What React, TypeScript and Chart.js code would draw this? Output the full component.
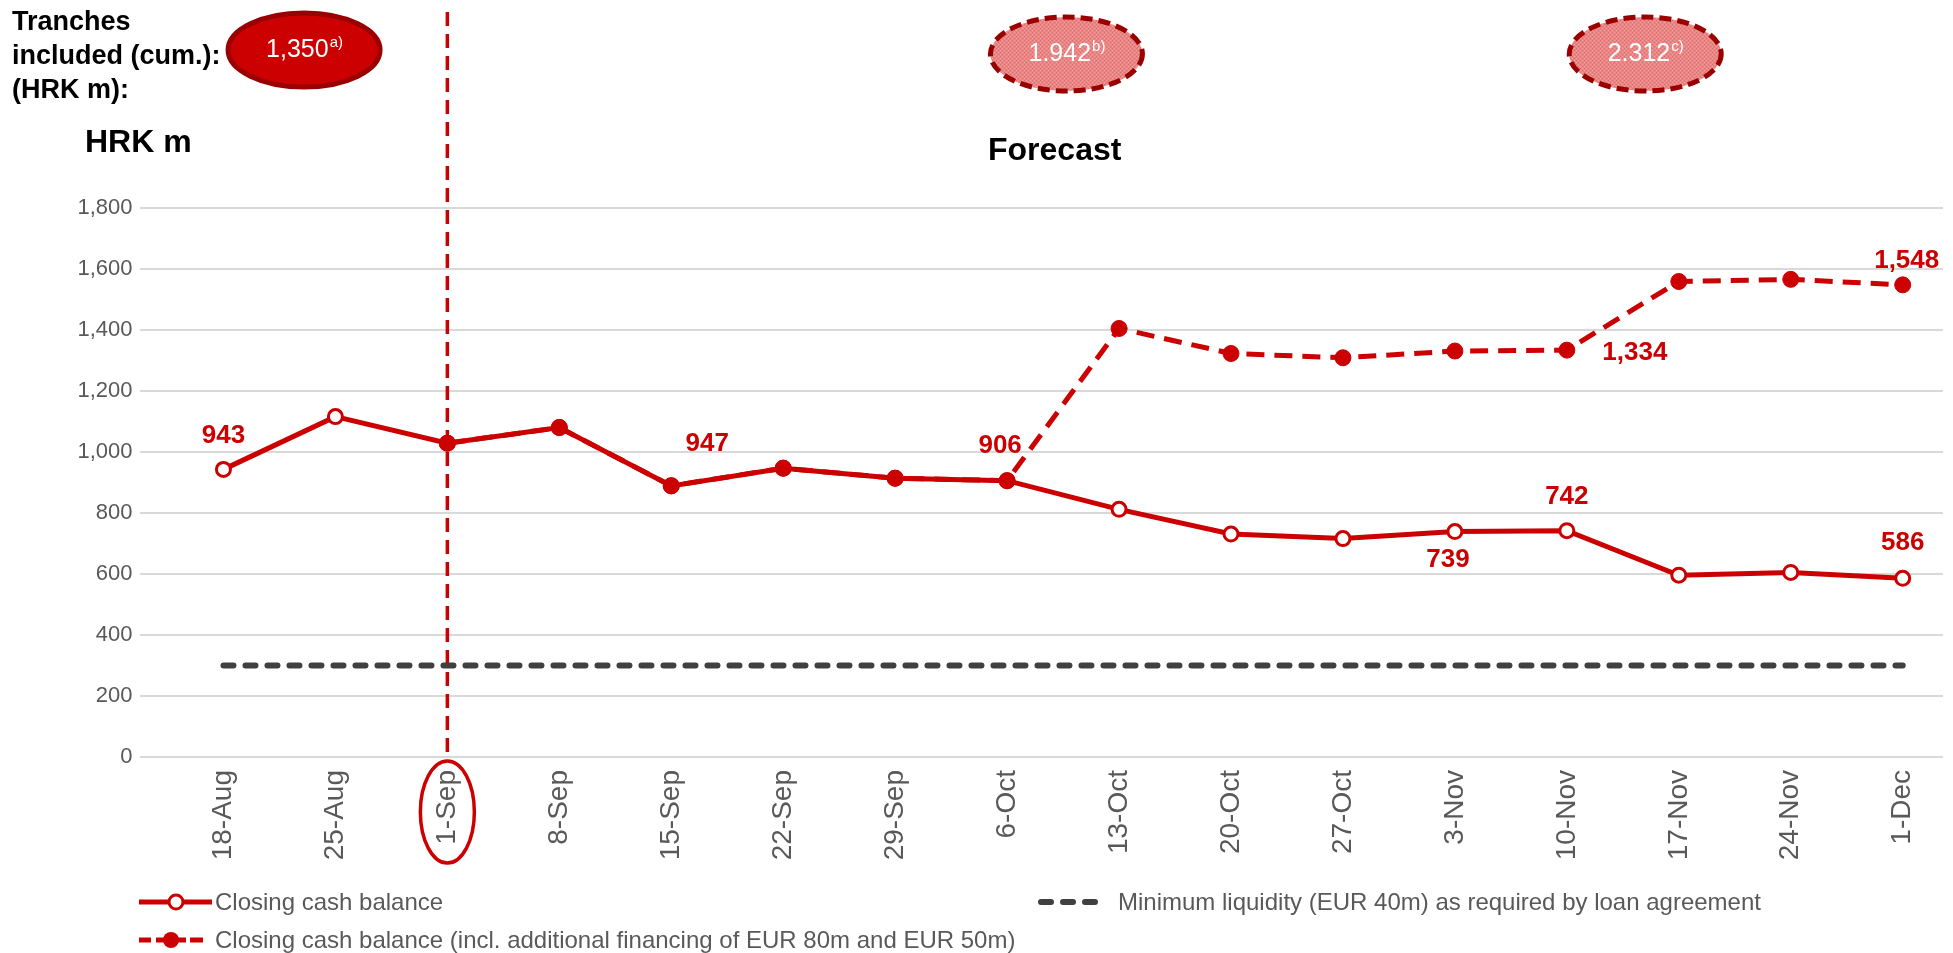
import React, { useEffect, useRef } from "react";
import { Chart, registerables } from "chart.js";

Chart.register(...registerables);

// ---------------- data ----------------
const categories = [
  "18-Aug", "25-Aug", "1-Sep", "8-Sep", "15-Sep", "22-Sep", "29-Sep", "6-Oct",
  "13-Oct", "20-Oct", "27-Oct", "3-Nov", "10-Nov", "17-Nov", "24-Nov", "1-Dec",
];
const closingCash = [943, 1116, 1029, 1080, 889, 947, 914, 906, 812, 731, 716, 739, 742, 596, 605, 586];
const closingCashFinanced = [null, null, 1029, 1080, 889, 947, 914, 906, 1405, 1323, 1309, 1331, 1334, 1559, 1566, 1548];
const minimumLiquidity = [300, 300, 300, 300, 300, 300, 300, 300, 300, 300, 300, 300, 300, 300, 300, 300];
const yMin = 0;
const yMax = 1800;
const yStep = 200;
const splitIndex = 2; // 1-Sep marker line

const seriesNames = [
  "Closing cash balance",
  "Closing cash balance (incl. additional financing of EUR 80m and EUR 50m)",
  "Minimum liquidity (EUR 40m) as required by loan agreement",
];

// value labels: index into series, with offsets from the point
const closingLabels = [
  { i: 0, dx: 0, dy: -34 },
  { i: 5, dx: -76, dy: -24 },
  { i: 7, dx: -7, dy: -35 },
  { i: 11, dx: -7, dy: 28 },
  { i: 12, dx: 0, dy: -34 },
  { i: 15, dx: 0, dy: -35 },
];
const financedLabels = [
  { i: 12, dx: 68, dy: 3 },
  { i: 15, dx: 4, dy: -24 },
];

// tranche bubbles
const trancheTexts = ["1,350", "1.942", "2.312"];
const trancheNotes = ["a)", "b)", "c)"];
const tranchePos = [0.72, 7.53, 12.7];

// ---------------- styles ----------------
const RED = "#cc0000";
const DARK_RED = "#9a0000";
const GRAY_TEXT = "#595959";
const LIQ_GRAY = "#404040";
const FONT = "Arial, 'Liberation Sans', Helvetica, sans-serif";

function fmt(v: number) {
  return v.toLocaleString("en-US");
}

function makePattern(ctx: CanvasRenderingContext2D) {
  const c = document.createElement("canvas");
  c.width = 4;
  c.height = 4;
  const p = c.getContext("2d")!;
  p.fillStyle = "#ea8585";
  p.fillRect(0, 0, 4, 4);
  p.fillStyle = "#de6a6a";
  p.fillRect(0, 0, 1, 1);
  p.fillRect(2, 2, 1, 1);
  p.fillStyle = "#f2a0a0";
  p.fillRect(2, 0, 1, 1);
  p.fillRect(0, 2, 1, 1);
  return ctx.createPattern(c, "repeat")!;
}

function drawBubble(
  ctx: CanvasRenderingContext2D,
  cx: number,
  cy: number,
  text: string,
  note: string,
  dashed: boolean
) {
  ctx.save();
  ctx.beginPath();
  ctx.ellipse(cx, cy, 76, 37, 0, 0, Math.PI * 2);
  ctx.fillStyle = dashed ? makePattern(ctx) : RED;
  ctx.fill();
  ctx.lineWidth = 5;
  ctx.strokeStyle = DARK_RED;
  if (dashed) ctx.setLineDash([12, 6]);
  ctx.stroke();
  ctx.setLineDash([]);
  ctx.fillStyle = "#ffffff";
  ctx.textBaseline = "middle";
  ctx.textAlign = "left";
  ctx.font = `25px ${FONT}`;
  const w1 = ctx.measureText(text).width;
  ctx.font = `15px ${FONT}`;
  const w2 = ctx.measureText(note).width;
  const x0 = cx - (w1 + w2) / 2;
  ctx.font = `25px ${FONT}`;
  ctx.fillText(text, x0, cy);
  ctx.font = `15px ${FONT}`;
  ctx.fillText(note, x0 + w1 + 1, cy - 7);
  ctx.restore();
}

const overlayPlugin = {
  id: "overlay",
  beforeDatasetsDraw(chart: any) {
    const ctx: CanvasRenderingContext2D = chart.ctx;
    const x = chart.scales.x.getPixelForValue(splitIndex);
    ctx.save();
    ctx.strokeStyle = RED;
    ctx.lineWidth = 3.5;
    ctx.setLineDash([14, 8]);
    ctx.beginPath();
    ctx.moveTo(x, 12);
    ctx.lineTo(x, chart.chartArea.bottom);
    ctx.stroke();
    ctx.restore();
  },
  afterDraw(chart: any) {
    const ctx: CanvasRenderingContext2D = chart.ctx;
    const xs = chart.scales.x;
    const ys = chart.scales.y;

    // ellipse around the 1-Sep label
    ctx.save();
    ctx.strokeStyle = RED;
    ctx.lineWidth = 3.5;
    ctx.beginPath();
    ctx.ellipse(xs.getPixelForValue(splitIndex), 812, 27, 51, 0, 0, Math.PI * 2);
    ctx.stroke();
    ctx.restore();

    // top-left caption
    ctx.save();
    ctx.fillStyle = "#000";
    ctx.textBaseline = "middle";
    ctx.textAlign = "left";
    ctx.font = `bold 27px ${FONT}`;
    ctx.fillText("Tranches", 12, 23);
    ctx.fillText("included (cum.):", 12, 57);
    ctx.fillText("(HRK m):", 12, 91);
    ctx.font = `bold 32px ${FONT}`;
    ctx.fillText("HRK m", 85, 143);
    ctx.fillText("Forecast", 988, 151);
    ctx.restore();

    // tranche bubbles
    trancheTexts.forEach((t, k) => {
      drawBubble(ctx, xs.getPixelForValue(tranchePos[k]), k === 0 ? 50 : 54, t, trancheNotes[k], k > 0);
    });

    // value labels
    ctx.save();
    ctx.fillStyle = RED;
    ctx.font = `bold 26px ${FONT}`;
    ctx.textAlign = "center";
    ctx.textBaseline = "middle";
    closingLabels.forEach((l) => {
      const v = closingCash[l.i];
      ctx.fillText(fmt(v), xs.getPixelForValue(l.i) + l.dx, ys.getPixelForValue(v) + l.dy);
    });
    financedLabels.forEach((l) => {
      const v = closingCashFinanced[l.i] as number;
      ctx.fillText(fmt(v), xs.getPixelForValue(l.i) + l.dx, ys.getPixelForValue(v) + l.dy);
    });
    ctx.restore();

    // legend
    ctx.save();
    ctx.font = `24px ${FONT}`;
    ctx.fillStyle = GRAY_TEXT;
    ctx.textBaseline = "middle";
    ctx.textAlign = "left";
    let y = 902;
    ctx.strokeStyle = RED;
    ctx.lineWidth = 5;
    ctx.beginPath();
    ctx.moveTo(139, y);
    ctx.lineTo(212, y);
    ctx.stroke();
    ctx.beginPath();
    ctx.arc(176, y, 7, 0, Math.PI * 2);
    ctx.fillStyle = "#fff";
    ctx.fill();
    ctx.lineWidth = 3;
    ctx.stroke();
    ctx.fillStyle = GRAY_TEXT;
    ctx.fillText(seriesNames[0], 215, y + 1);
    ctx.strokeStyle = LIQ_GRAY;
    ctx.lineWidth = 6;
    ctx.lineCap = "round";
    ctx.setLineDash([10, 12]);
    ctx.beginPath();
    ctx.moveTo(1041, y);
    ctx.lineTo(1102, y);
    ctx.stroke();
    ctx.setLineDash([]);
    ctx.lineCap = "butt";
    ctx.fillText(seriesNames[2], 1118, y + 1);
    y = 940;
    ctx.strokeStyle = RED;
    ctx.lineWidth = 5;
    ctx.beginPath();
    ctx.moveTo(139, y);
    ctx.lineTo(151, y);
    ctx.moveTo(190, y);
    ctx.lineTo(203, y);
    ctx.stroke();
    ctx.beginPath();
    ctx.arc(171, y, 8, 0, Math.PI * 2);
    ctx.fillStyle = RED;
    ctx.fill();
    ctx.fillRect(156, y - 2.5, 30, 5);
    ctx.fillStyle = GRAY_TEXT;
    ctx.fillText(seriesNames[1], 215, y + 1);
    ctx.restore();
  },
};

export default function App() {
  const ref = useRef<HTMLCanvasElement>(null);

  useEffect(() => {
    const toXY = (arr: (number | null)[]) => arr.map((v, i) => ({ x: i, y: v }));
    const chart = new Chart(ref.current!, {
      type: "line",
      data: {
        datasets: [
          {
            label: seriesNames[1],
            data: toXY(closingCashFinanced) as any,
            borderColor: RED,
            borderWidth: 5,
            borderDash: [18, 10],
            pointRadius: 8,
            pointBackgroundColor: RED,
            pointBorderColor: RED,
            pointBorderWidth: 1,
            tension: 0,
            order: 0,
          },
          {
            label: seriesNames[0],
            data: toXY(closingCash) as any,
            borderColor: RED,
            borderWidth: 5,
            pointRadius: 7,
            pointBackgroundColor: "#ffffff",
            pointBorderColor: RED,
            pointBorderWidth: 3,
            tension: 0,
            order: 1,
          },
          {
            label: seriesNames[2],
            data: toXY(minimumLiquidity) as any,
            borderColor: LIQ_GRAY,
            borderWidth: 6,
            borderDash: [10, 12],
            borderCapStyle: "round",
            pointRadius: 0,
            tension: 0,
            order: 2,
          },
        ],
      },
      options: {
        animation: false,
        responsive: false,
        locale: "en-US",
        layout: { padding: { top: 208, left: 0, right: 0, bottom: 0 } },
        plugins: {
          legend: { display: false },
          tooltip: { enabled: false },
          title: { display: false },
        },
        scales: {
          x: {
            type: "linear",
            min: -0.75,
            max: 15.36,
            grid: { display: false, drawTicks: false },
            border: { display: false },
            afterFit: (s: any) => {
              s.height = 953 - 757;
            },
            ticks: {
              stepSize: 1,
              includeBounds: false,
              autoSkip: false,
              maxRotation: 90,
              minRotation: 90,
              padding: 13,
              color: GRAY_TEXT,
              font: { family: FONT, size: 28 },
              callback: (v: any) => (Number.isInteger(v) ? categories[v] ?? "" : ""),
            },
          },
          y: {
            min: yMin,
            max: yMax,
            afterFit: (s: any) => {
              s.width = 139.5;
            },
            grid: { color: "#d9d9d9", lineWidth: 2, drawTicks: false },
            border: { display: false },
            ticks: {
              stepSize: yStep,
              padding: 7,
              color: GRAY_TEXT,
              font: { family: FONT, size: 22 },
            },
          },
        },
      },
      plugins: [overlayPlugin],
    });
    return () => chart.destroy();
  }, []);

  return (
    <div
      style={{
        position: "fixed",
        left: 0,
        top: 0,
        width: "1953px",
        height: "953px",
        overflow: "hidden",
        background: "#ffffff",
      }}
    >
      <canvas
        ref={ref}
        width={1953}
        height={953}
        style={{ width: "1953px", height: "953px", display: "block" }}
      />
    </div>
  );
}
